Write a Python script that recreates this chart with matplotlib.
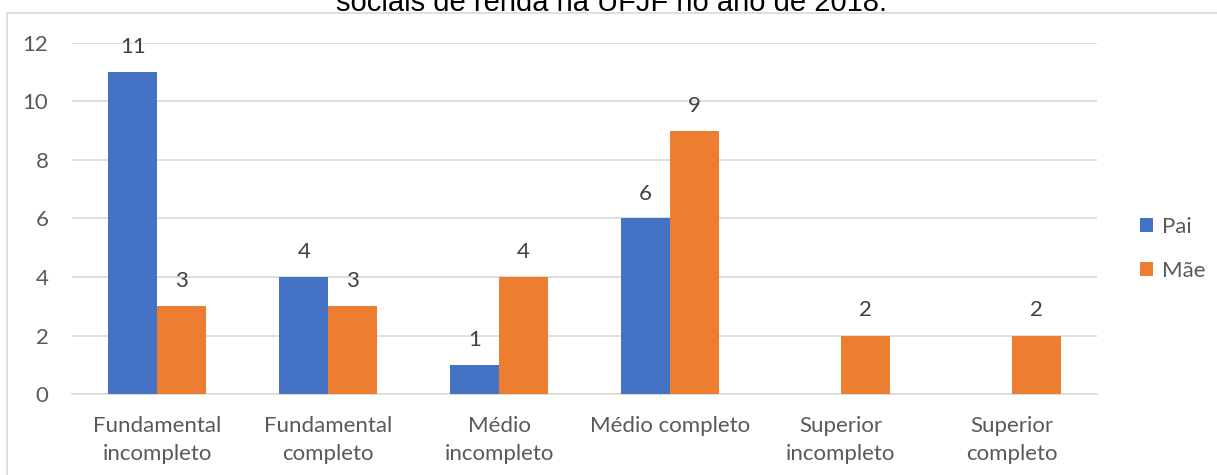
import matplotlib
matplotlib.use("Agg")
import matplotlib.pyplot as plt
from matplotlib.patches import Rectangle
import numpy as np

categories = ["Fundamental\nincompleto", "Fundamental\ncompleto", "Médio\nincompleto",
              "Médio completo", "Superior\nincompleto", "Superior\ncompleto"]
pai = [11, 4, 1, 6, 0, 0]
mae = [3, 3, 4, 9, 2, 2]
yticks = [0, 2, 4, 6, 8, 10, 12]
title = "sociais de renda na UFJF no ano de 2018."

BLUE = "#4472C4"
ORANGE = "#ED7D31"
TEXT = "#595959"
GRID = "#D9D9D9"
FONT = ["Lato", "DejaVu Sans"]
FS = 16

fig = plt.figure(figsize=(12.17, 4.75), dpi=100)
ax = fig.add_axes([72 / 1217, 81 / 475, 1025 / 1217, 351 / 475])

# outer chart frame (top and left edges)
fig.add_artist(Rectangle((7 / 1217, -0.1), 1.2, (475 - 13) / 475 + 0.1,
                         transform=fig.transFigure, fill=False,
                         edgecolor=GRID, linewidth=1.2))

fig.text(612 / 1217, 1 - 11 / 475, title, ha="center", va="baseline",
         fontsize=21, family=["Liberation Sans", "DejaVu Sans"], color="black")

x = np.arange(len(categories))
w = 0.287
b1 = ax.bar(x - w / 2, pai, w, color=BLUE, label="Pai", zorder=3)
b2 = ax.bar(x + w / 2, mae, w, color=ORANGE, label="Mãe", zorder=3)

for bars, vals in ((b1, pai), (b2, mae)):
    for rect, v in zip(bars, vals):
        if v == 0:
            continue
        ax.annotate(str(v), (rect.get_x() + rect.get_width() / 2, v),
                    xytext=(0, 18), textcoords="offset points",
                    ha="center", va="center", fontsize=FS, color="#404040",
                    family=FONT)

ax.set_xlim(-0.5, len(categories) - 0.5)
ax.set_ylim(0, 12)
ax.set_yticks(yticks)
ax.yaxis.grid(True, color=GRID, linewidth=1.2, zorder=0)
ax.set_axisbelow(True)
for s in ("top", "right", "left"):
    ax.spines[s].set_visible(False)
ax.spines["bottom"].set_color(GRID)
ax.spines["bottom"].set_linewidth(1.2)
ax.tick_params(axis="both", length=0, labelsize=FS, labelcolor=TEXT)
ax.tick_params(axis="y", pad=17)
ax.tick_params(axis="x", pad=16)
ax.set_xticks(x)
ax.set_xticklabels(categories, linespacing=1.5)
for lab in ax.get_xticklabels() + ax.get_yticklabels():
    lab.set_family(FONT)

leg = fig.legend(handles=[b1, b2], loc="center left",
                 bbox_to_anchor=(1120 / 1217, 1 - 249 / 475),
                 frameon=False, handlelength=0.6, handleheight=0.6,
                 handletextpad=0.4, labelspacing=1.1, prop={"family": FONT, "size": FS})
for t in leg.get_texts():
    t.set_color(TEXT)

fig.savefig("out.png", dpi=100)
